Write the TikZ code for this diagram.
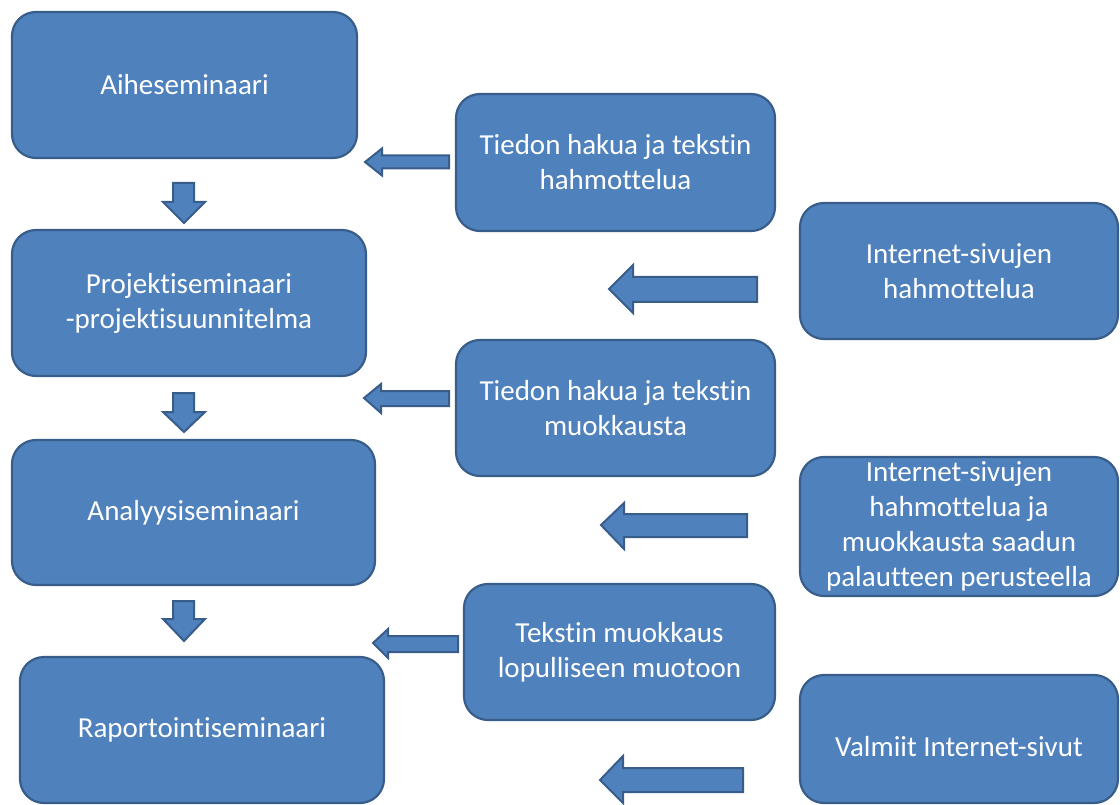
\documentclass[tikz,border=0pt]{standalone}
\usepackage{fontspec}
\setmainfont{Carlito}[RawFeature={-liga;-clig}]
\definecolor{boxfill}{HTML}{4F81BD}
\definecolor{boxline}{HTML}{385D8A}
\begin{document}
\begin{tikzpicture}[x=1pt,y=-1pt,
  box/.style={draw=boxline, fill=boxfill, line width=2.2pt, rounded corners=24pt,
    inner sep=0pt, align=center, text=white,
    font=\fontsize{29}{35}\selectfont},
  blk/.style={draw=boxline, fill=boxfill, line width=2pt, line join=miter}]
\useasboundingbox (0,0) rectangle (1120,805);
% left column
\node[box, minimum width=345, minimum height=146] (aihe) at (184.5,85) {Aiheseminaari};
\node[box, minimum width=354, minimum height=146] (proj) at (189,303) {Projektiseminaari\\-projektisuunnitelma};
\node[box, minimum width=363, minimum height=145] (anal) at (193.5,512.5) {Analyysiseminaari};
\node[box, minimum width=364, minimum height=146] (rap) at (202,730) {Raportointiseminaari};
% middle column
\node[box, minimum width=319, minimum height=137] (t1) at (615.5,162.5) {Tiedon hakua ja tekstin\\hahmottelua};
\node[box, minimum width=319, minimum height=136] (t2) at (615.5,408) {Tiedon hakua ja tekstin\\muokkausta};
\node[box, minimum width=311, minimum height=136] (t3) at (619.5,652) {Tekstin muokkaus\\lopulliseen muotoon};
% right column
\node[box, minimum width=318, minimum height=136] (i1) at (959,271) {Internet-sivujen\\hahmottelua};
\node[box, minimum width=318, minimum height=139] (i2) at (959,526.5) {Internet-sivujen\\hahmottelua ja\\muokkausta saadun\\palautteen perusteella};
\node[box, minimum width=318, minimum height=128] (i3) at (959,739) {};
\node[text=white, font=\fontsize{29}{35}\selectfont] (i3t) at (959,747) {Valmiit Internet-sivut};
% down arrows
\draw[blk] (173,183) -- (194,183) -- (194,202) -- (205,202) -- (184,223) -- (163,202) -- (173,202) -- cycle;
\draw[blk] (173,393) -- (194,393) -- (194,412) -- (205,412) -- (184,432) -- (163,412) -- (173,412) -- cycle;
\draw[blk] (173,601) -- (194,601) -- (194,619) -- (205,619) -- (184,641) -- (163,619) -- (173,619) -- cycle;
% left arrows
\draw[blk] (365,162) -- (382,148.5) -- (382,155.5) -- (449,155.5) -- (449,168.5) -- (382,168.5) -- (382,175.5) -- cycle;
\draw[blk] (609,289) -- (633,265) -- (633,277) -- (757,277) -- (757,302) -- (633,302) -- (633,313) -- cycle;
\draw[blk] (364,398) -- (381,384) -- (381,391) -- (449,391) -- (449,406) -- (381,406) -- (381,413) -- cycle;
\draw[blk] (601,525) -- (624,503) -- (624,514) -- (747,514) -- (747,537) -- (624,537) -- (624,549) -- cycle;
\draw[blk] (373,643) -- (388,629) -- (388,636) -- (458,636) -- (458,652) -- (388,652) -- (388,658) -- cycle;
\draw[blk] (600,780) -- (623,756) -- (623,768) -- (743,768) -- (743,792) -- (623,792) -- (623,803) -- cycle;
\end{tikzpicture}
\end{document}
